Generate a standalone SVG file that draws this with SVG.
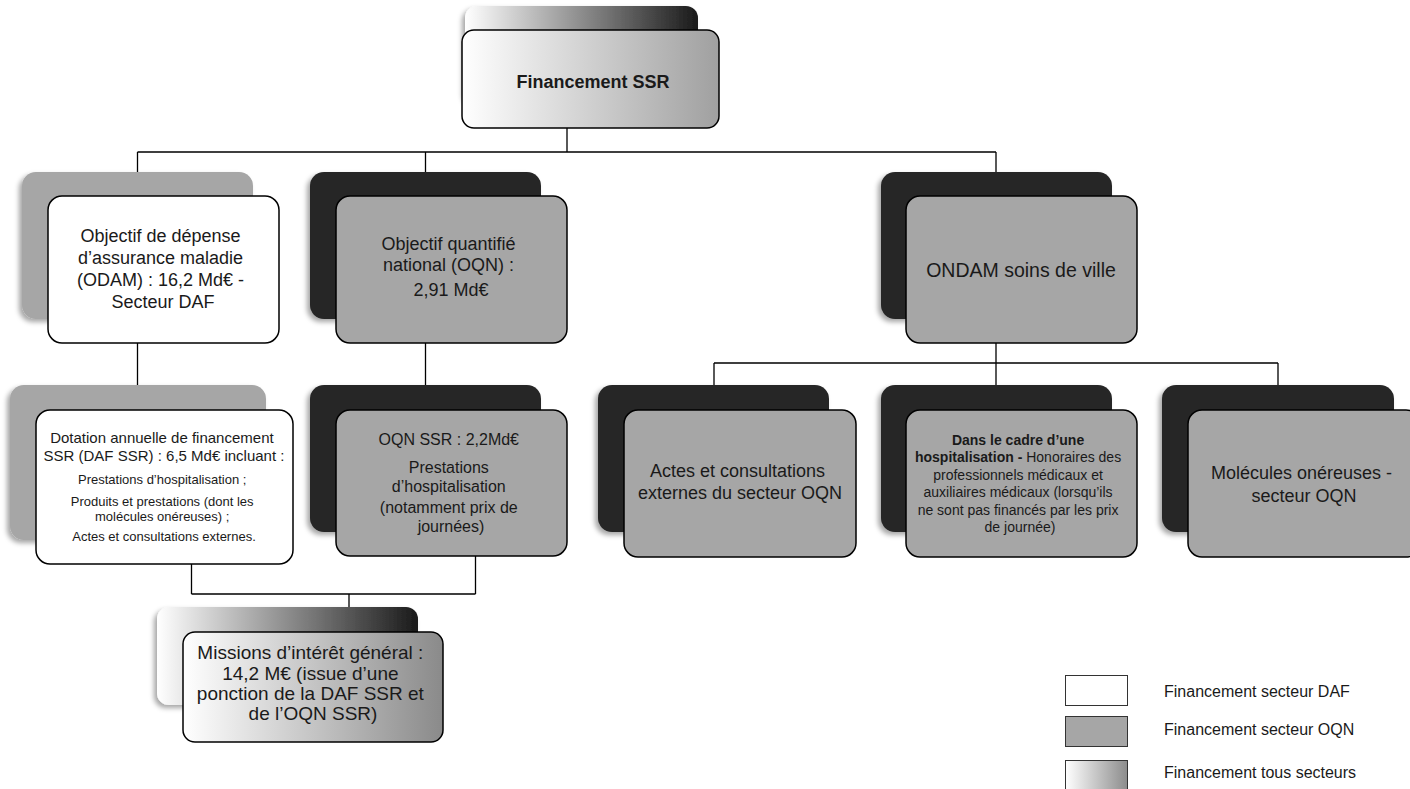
<svg xmlns="http://www.w3.org/2000/svg" width="1410" height="789" viewBox="0 0 1410 789">
<defs>
  <linearGradient id="gBackAll" x1="0" y1="0" x2="1" y2="0">
    <stop offset="0" stop-color="#ffffff"/>
    <stop offset="1" stop-color="#1a1a1a"/>
  </linearGradient>
  <linearGradient id="gFrontAll" x1="0" y1="0" x2="1" y2="0">
    <stop offset="0" stop-color="#ffffff"/>
    <stop offset="1" stop-color="#a0a0a0"/>
  </linearGradient>
  <linearGradient id="gFrontMig" x1="0" y1="0" x2="1" y2="0">
    <stop offset="0" stop-color="#ffffff"/>
    <stop offset="1" stop-color="#8a8a8a"/>
  </linearGradient>
  <linearGradient id="gLegend" x1="0" y1="0" x2="1" y2="0">
    <stop offset="0" stop-color="#ffffff"/>
    <stop offset="1" stop-color="#8c8c8c"/>
  </linearGradient>
  <filter id="sh" x="-10%" y="-10%" width="125%" height="125%">
    <feDropShadow dx="-3" dy="3" stdDeviation="2.5" flood-color="#000" flood-opacity="0.35"/>
  </filter>
</defs>
<style>
  text { font-family: "Liberation Sans", Arial, sans-serif; fill: #1a1a1a; text-anchor: middle; }
  .back-dark { fill: #262626; filter: url(#sh); }
  .back-gray { fill: #a6a6a6; filter: url(#sh); }
  .front { stroke: #000; stroke-width: 1.5; }
  .white { fill: #ffffff; }
  .gray { fill: #a6a6a6; }
  .conn { stroke: #000; stroke-width: 1.3; fill: none; }
  .leg { text-anchor: start; font-size: 16px; }
  .legbox { stroke: #333; stroke-width: 1; }
</style>

<g id="connectors">
  <path class="conn" d="M567 128 V152 M137.5 152 H996 M137.5 152 V172 M425.5 152 V172 M996 152 V172"/>
  <path class="conn" d="M137.5 343 V385 M425.5 343 V385"/>
  <path class="conn" d="M996 343 V363 M714 363 H1278 M714 363 V385 M996 363 V385 M1278 363 V385"/>
  <path class="conn" d="M191.5 564 V594 M475.5 556 V594 M191.5 594 H475.5 M349 594 V607"/>
</g>

<g id="node-financement">
  <rect x="465" y="6" width="233" height="98" rx="12" fill="url(#gBackAll)" filter="url(#sh)"/>
  <rect class="front" x="462" y="30" width="257" height="98" rx="12" fill="url(#gFrontAll)"/>
  <text x="593" y="88" font-size="18" font-weight="bold">Financement SSR</text>
</g>

<g id="node-odam">
  <rect class="back-gray" x="22" y="172" width="231" height="147" rx="14"/>
  <rect class="front white" x="48" y="196" width="231" height="147" rx="14"/>
  <text font-size="18">
    <tspan x="163" y="242">Objectif de dépense</tspan>
    <tspan x="163" y="264">d’assurance maladie</tspan>
    <tspan x="163" y="286">(ODAM) : 16,2 Md€ -</tspan>
    <tspan x="163" y="308">Secteur DAF</tspan>
  </text>
</g>

<g id="node-oqn">
  <rect class="back-dark" x="310" y="172" width="231" height="147" rx="14"/>
  <rect class="front gray" x="336" y="196" width="231" height="147" rx="14"/>
  <text font-size="18">
    <tspan x="451" y="250">Objectif quantifié</tspan>
    <tspan x="451" y="271">national (OQN) :</tspan>
    <tspan x="451" y="296">2,91 Md€</tspan>
  </text>
</g>

<g id="node-ondam">
  <rect class="back-dark" x="881" y="172" width="231" height="147" rx="14"/>
  <rect class="front gray" x="906" y="196" width="231" height="147" rx="14"/>
  <text x="1021" y="277" font-size="19.5">ONDAM soins de ville</text>
</g>

<g id="node-daf-ssr">
  <rect class="back-gray" x="10" y="385" width="256" height="155" rx="14"/>
  <rect class="front white" x="36" y="410" width="257" height="154" rx="14"/>
  <text font-size="15">
    <tspan x="164" y="442.5">Dotation annuelle de financement</tspan>
    <tspan x="164" y="461">SSR (DAF SSR) : 6,5 Md€ incluant :</tspan>
  </text>
  <text font-size="13">
    <tspan x="164" y="484">Prestations d’hospitalisation ;</tspan>
    <tspan x="164" y="505.5">Produits et prestations (dont les</tspan>
    <tspan x="164" y="520.5">molécules onéreuses) ;</tspan>
    <tspan x="164" y="541">Actes et consultations externes.</tspan>
  </text>
</g>

<g id="node-oqn-ssr">
  <rect class="back-dark" x="310" y="385" width="231" height="147" rx="14"/>
  <rect class="front gray" x="336" y="410" width="231" height="146" rx="14"/>
  <text font-size="16">
    <tspan x="451" y="445">OQN SSR : 2,2Md€</tspan>
    <tspan x="451" y="472.5">Prestations</tspan>
    <tspan x="451" y="492">d’hospitalisation</tspan>
    <tspan x="451" y="513">(notamment prix de</tspan>
    <tspan x="451" y="531.5">journées)</tspan>
  </text>
</g>

<g id="node-actes">
  <rect class="back-dark" x="598" y="385" width="231" height="147" rx="14"/>
  <rect class="front gray" x="624" y="410" width="232" height="147" rx="14"/>
  <text font-size="18">
    <tspan x="740" y="477">Actes et consultations</tspan>
    <tspan x="740" y="499">externes du secteur OQN</tspan>
  </text>
</g>

<g id="node-honoraires">
  <rect class="back-dark" x="881" y="385" width="231" height="147" rx="14"/>
  <rect class="front gray" x="906" y="410" width="231" height="147" rx="14"/>
  <text font-size="14">
    <tspan x="1020" y="444.6" font-weight="bold">Dans le cadre d’une</tspan>
    <tspan x="1020" y="462"><tspan font-weight="bold">hospitalisation - </tspan>Honoraires des</tspan>
    <tspan x="1020" y="479.5">professionnels médicaux et</tspan>
    <tspan x="1020" y="497">auxiliaires médicaux (lorsqu’ils</tspan>
    <tspan x="1020" y="514.5">ne sont pas financés par les prix</tspan>
    <tspan x="1020" y="532">de journée)</tspan>
  </text>
</g>

<g id="node-molecules">
  <rect class="back-dark" x="1162" y="385" width="232" height="147" rx="14"/>
  <rect class="front gray" x="1188" y="410" width="232" height="147" rx="14"/>
  <text font-size="18">
    <tspan x="1304" y="479">Molécules onéreuses -</tspan>
    <tspan x="1304" y="502">secteur OQN</tspan>
  </text>
</g>

<g id="node-missions">
  <rect x="157" y="607" width="261" height="98" rx="12" fill="url(#gBackAll)" filter="url(#sh)"/>
  <rect class="front" x="183" y="632" width="260" height="110" rx="12" fill="url(#gFrontMig)"/>
  <text font-size="19">
    <tspan x="313" y="659">Missions d’intérêt général :</tspan>
    <tspan x="313" y="680">14,2 M€ (issue d’une</tspan>
    <tspan x="313" y="700">ponction de la DAF SSR et</tspan>
    <tspan x="313" y="720">de l’OQN SSR)</tspan>
  </text>
</g>

<g id="legend">
  <rect class="legbox" x="1065.5" y="675.5" width="62" height="30" fill="#ffffff"/>
  <text class="leg" x="1164" y="697">Financement secteur DAF</text>
  <rect class="legbox" x="1065.5" y="716.5" width="62" height="30" fill="#a6a6a6"/>
  <text class="leg" x="1164" y="735">Financement secteur OQN</text>
  <rect class="legbox" x="1065.5" y="760.5" width="62" height="32" fill="url(#gLegend)"/>
  <text class="leg" x="1164" y="778">Financement tous secteurs</text>
</g>
</svg>
